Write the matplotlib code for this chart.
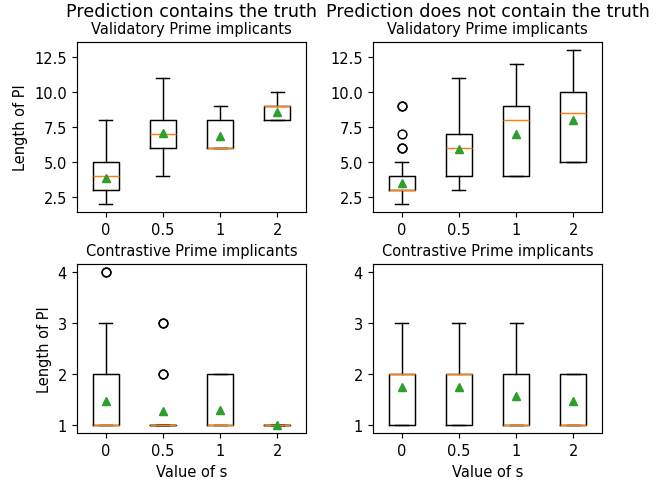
import matplotlib
matplotlib.use("Agg")
import matplotlib.pyplot as plt

s_labels = ["0", "0.5", "1", "2"]

# Prediction contains the truth - Validatory
c_val_whislo = [2, 4, 6, 8]
c_val_q1 = [3, 6, 6, 8]
c_val_med = [4, 7, 6, 9]
c_val_q3 = [5, 8, 8, 9]
c_val_whishi = [8, 11, 9, 10]
c_val_mean = [3.85, 7.1, 6.85, 8.6]
c_val_fliers = [[], [], [], []]

# Prediction does not contain the truth - Validatory
n_val_whislo = [2, 3, 4, 5]
n_val_q1 = [3, 4, 4, 5]
n_val_med = [3, 6, 8, 8.5]
n_val_q3 = [4, 7, 9, 10]
n_val_whishi = [5, 11, 12, 13]
n_val_mean = [3.5, 5.9, 7.0, 8.0]
n_val_fliers = [[6, 6, 7, 9, 9], [], [], []]

# Prediction contains the truth - Contrastive
c_con_whislo = [1, 1, 1, 1]
c_con_q1 = [1, 1, 1, 1]
c_con_med = [1, 1, 1, 1]
c_con_q3 = [2, 1, 2, 1]
c_con_whishi = [3, 1, 2, 1]
c_con_mean = [1.48, 1.28, 1.3, 1.0]
c_con_fliers = [[4, 4], [2, 2, 3, 3], [], []]

# Prediction does not contain the truth - Contrastive
n_con_whislo = [1, 1, 1, 1]
n_con_q1 = [1, 1, 1, 1]
n_con_med = [2, 2, 1, 1]
n_con_q3 = [2, 2, 2, 2]
n_con_whishi = [3, 3, 3, 2]
n_con_mean = [1.74, 1.74, 1.58, 1.47]
n_con_fliers = [[], [], [], []]


def make_stats(whislo, q1, med, q3, whishi, mean, fliers):
    return [dict(whislo=a, q1=b, med=c, q3=d, whishi=e, mean=f, fliers=g, label=l)
            for a, b, c, d, e, f, g, l in zip(whislo, q1, med, q3, whishi, mean, fliers, s_labels)]


DPI = 105
W, H = 672, 484
fig = plt.figure(figsize=(W / DPI, H / DPI), dpi=DPI)

def pos(l, t, r, b):
    return [l / W, 1 - b / H, (r - l) / W, (b - t) / H]

ax1 = fig.add_axes(pos(77, 43, 306, 213))
ax2 = fig.add_axes(pos(373, 43, 602, 213), sharey=ax1)
ax3 = fig.add_axes(pos(77, 265, 306, 434))
ax4 = fig.add_axes(pos(373, 265, 602, 434), sharey=ax3)

data = [
    (ax1, make_stats(c_val_whislo, c_val_q1, c_val_med, c_val_q3, c_val_whishi, c_val_mean, c_val_fliers), "Validatory Prime implicants"),
    (ax2, make_stats(n_val_whislo, n_val_q1, n_val_med, n_val_q3, n_val_whishi, n_val_mean, n_val_fliers), "Validatory Prime implicants"),
    (ax3, make_stats(c_con_whislo, c_con_q1, c_con_med, c_con_q3, c_con_whishi, c_con_mean, c_con_fliers), "Contrastive Prime implicants"),
    (ax4, make_stats(n_con_whislo, n_con_q1, n_con_med, n_con_q3, n_con_whishi, n_con_mean, n_con_fliers), "Contrastive Prime implicants"),
]

for ax, stats, title in data:
    ax.bxp(stats, showmeans=True)
    ax.set_title(title, fontsize=10)
    ax.tick_params(labelleft=True)

ax1.set_ylabel("Length of PI")
ax3.set_ylabel("Length of PI")
ax3.set_xlabel("Value of s")
ax4.set_xlabel("Value of s")
ax3.set_yticks([1, 2, 3, 4])

fig.text((77 + 306) / 2 / W, 1 - 12 / H, "Prediction contains the truth", ha="center", va="center", fontsize=12)
fig.text((373 + 602) / 2 / W, 1 - 12 / H, "Prediction does not contain the truth", ha="center", va="center", fontsize=12)

fig.savefig("out.png", dpi=DPI)
